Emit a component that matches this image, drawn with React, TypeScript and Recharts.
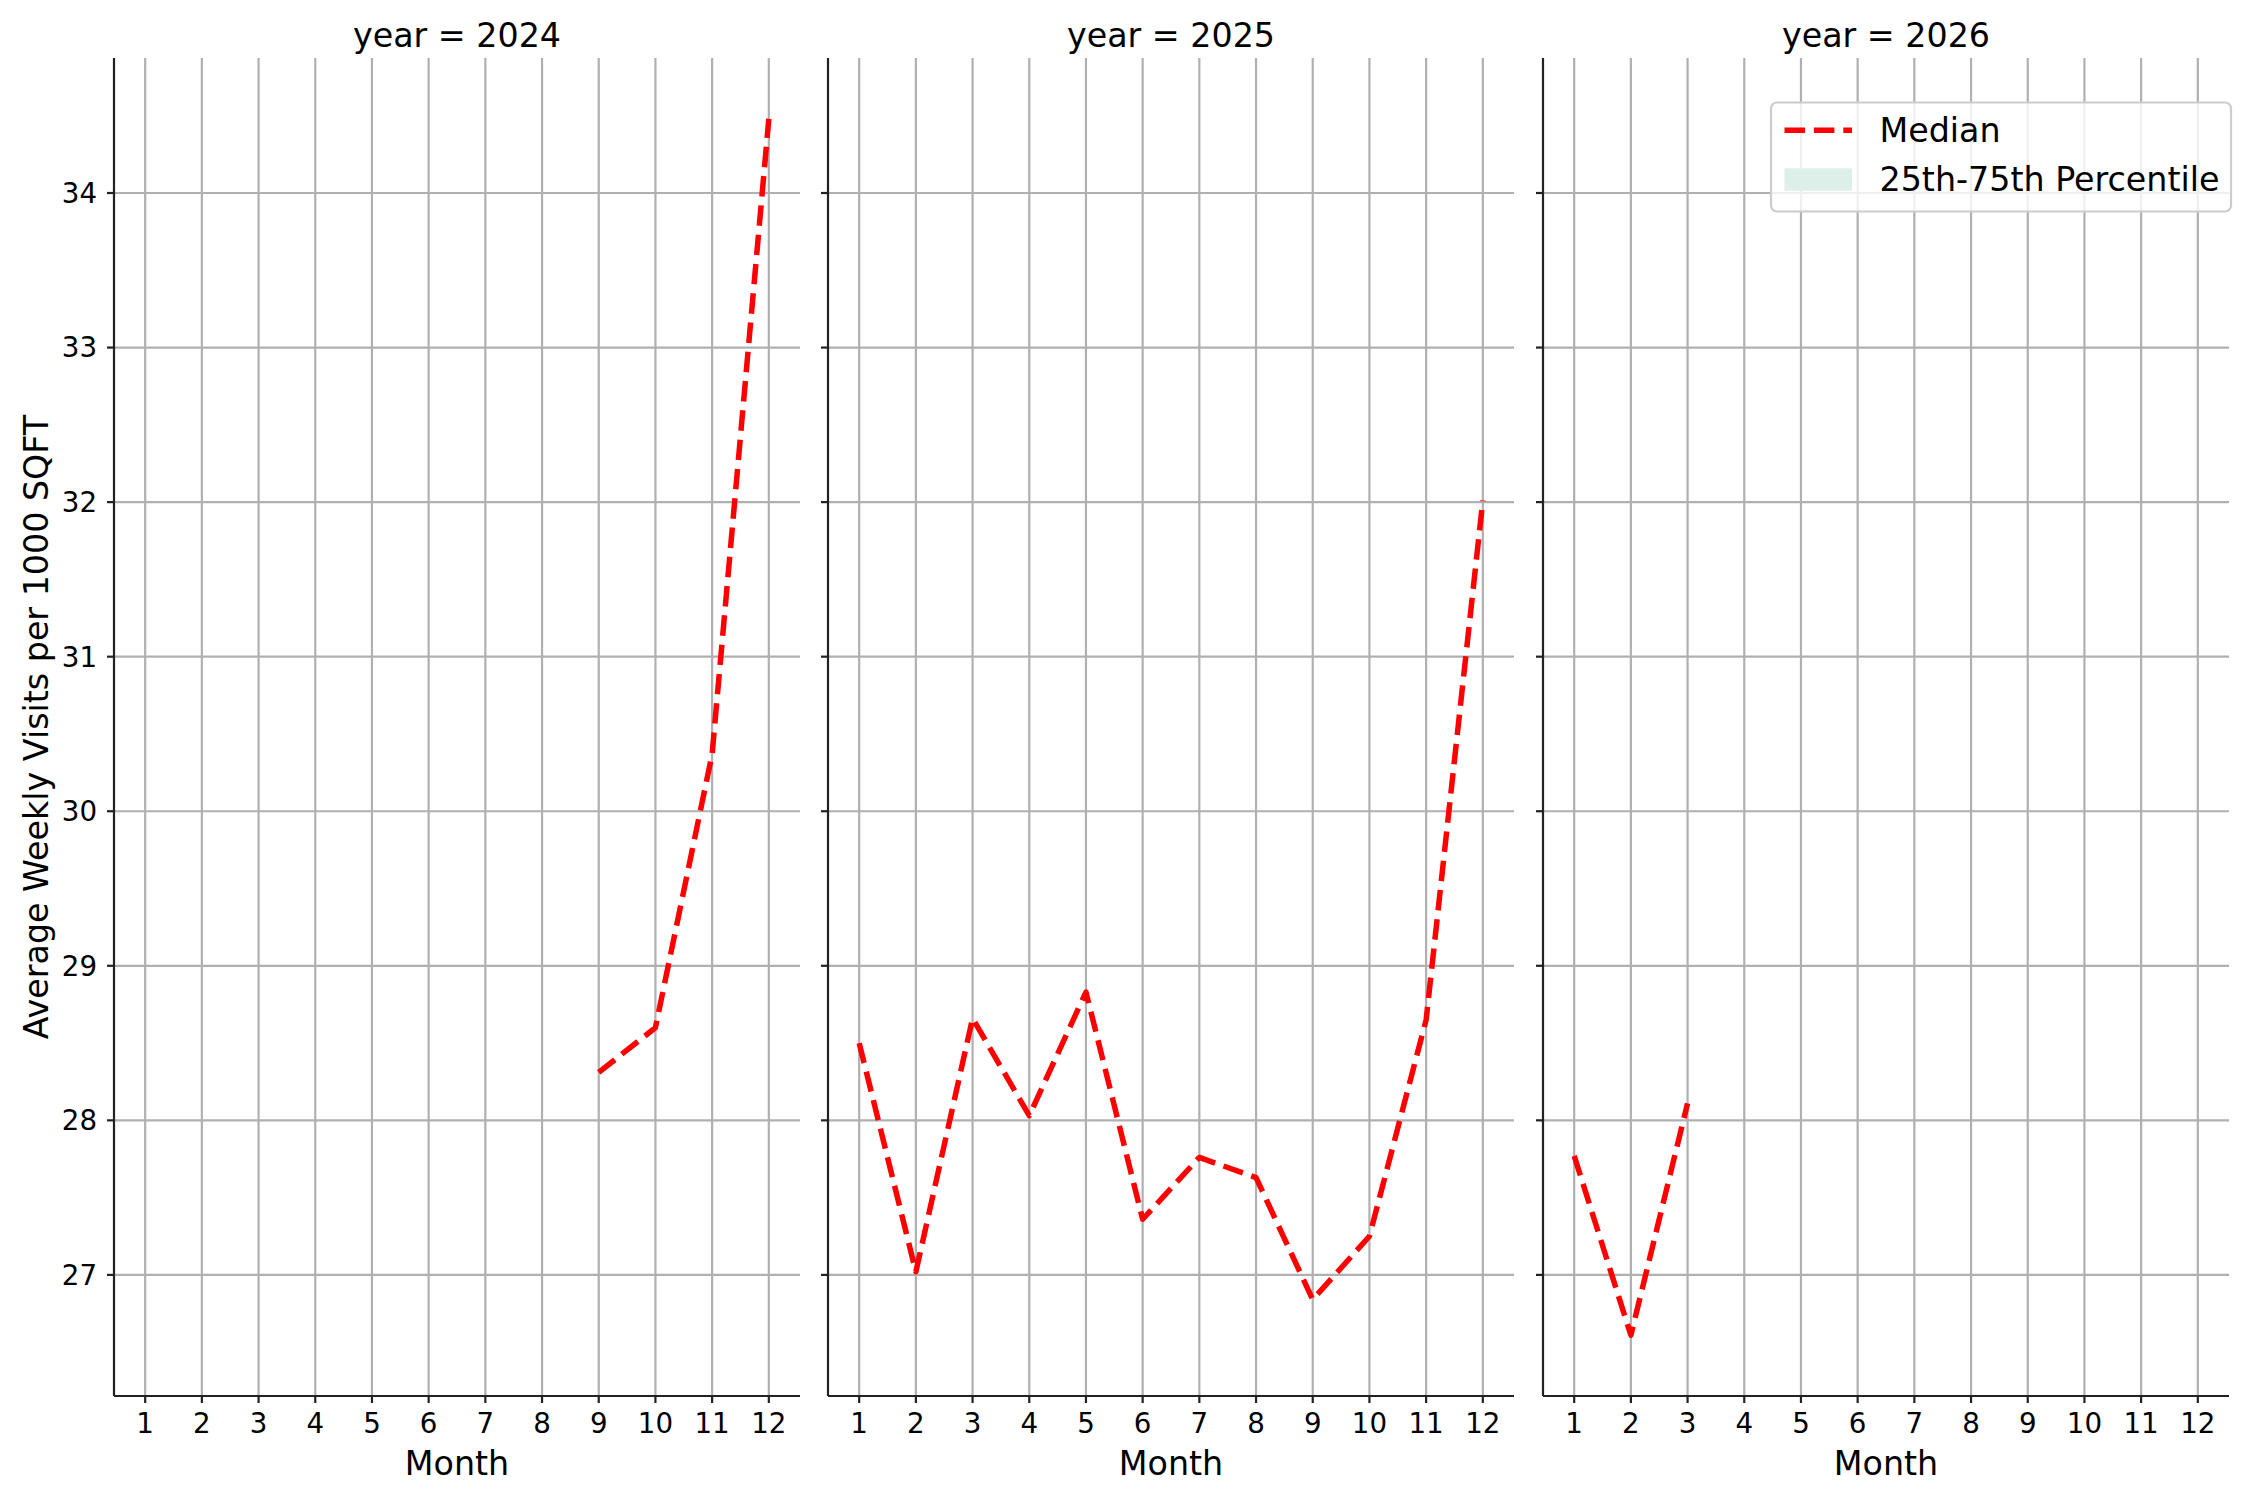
import React from 'react';
import { LineChart, Line, XAxis, YAxis, CartesianGrid } from 'recharts';

const MONTHS = [1, 2, 3, 4, 5, 6, 7, 8, 9, 10, 11, 12];
const YEARS = [2024, 2025, 2026];
const MEDIAN_2024 = [null, null, null, null, null, null, null, null, 28.31, 28.6, 30.37, 34.48];
const MEDIAN_2025 = [28.5, 27.02, 28.66, 28.03, 28.83, 27.36, 27.76, 27.63, 26.84, 27.25, 28.65, 32.01];
const MEDIAN_2026 = [27.77, 26.61, 28.11, null, null, null, null, null, null, null, null, null];
const Y_TICKS = [27, 28, 29, 30, 31, 32, 33, 34];
const SERIES = [MEDIAN_2024, MEDIAN_2025, MEDIAN_2026];

const FONT = 'DejaVu Sans';
const RED = '#ff0000';
const SPINE = '#222222';
const GRID = '#b0b0b0';

const allVals = SERIES.flat().filter((v) => v !== null) as number[];
const yMin = Math.min(...allVals);
const yMax = Math.max(...allVals);
const yPad = (yMax - yMin) * 0.05;
const Y_DOMAIN = [yMin - yPad, yMax + yPad];
const xPad = (MONTHS[MONTHS.length - 1] - MONTHS[0]) * 0.05;
const X_DOMAIN = [MONTHS[0] - xPad, MONTHS[MONTHS.length - 1] + xPad];

const PLOT_TOP = 58;
const PLOT_BOTTOM = 1396;
const PLOT_W = 686;
const PANEL_LEFTS = [114, 828, 1543];

function Panel({ idx }: { idx: number }) {
  const series = SERIES[idx];
  const data = MONTHS.map((m, i) => ({ month: m, median: series[i] }));
  const yW = idx === 0 ? 114 : 18;
  const left = PANEL_LEFTS[idx] - yW;
  return (
    <div style={{ position: 'absolute', left, top: 0 }}>
      <LineChart
        width={yW + PLOT_W}
        height={1500}
        data={data}
        margin={{ top: PLOT_TOP, right: 0, bottom: 0, left: 0 }}
      >
        <CartesianGrid stroke={GRID} strokeWidth={2.2} syncWithTicks />
        <XAxis
          dataKey="month"
          type="number"
          domain={X_DOMAIN}
          ticks={MONTHS}
          allowDataOverflow
          height={1500 - PLOT_BOTTOM}
          tickSize={7}
          tickMargin={10}
          axisLine={{ stroke: SPINE, strokeWidth: 2.2 }}
          tickLine={{ stroke: SPINE, strokeWidth: 2.2 }}
          tick={{ fill: '#000', fontSize: 27.7, fontFamily: FONT }}
        />
        <YAxis
          type="number"
          domain={Y_DOMAIN}
          ticks={Y_TICKS}
          allowDataOverflow
          width={yW}
          tickSize={7}
          tickMargin={10}
          axisLine={{ stroke: SPINE, strokeWidth: 2.2 }}
          tickLine={{ stroke: SPINE, strokeWidth: 2.2 }}
          tick={idx === 0 ? { fill: '#000', fontSize: 27.7, fontFamily: FONT } : () => <g />}
        />
        <Line
          type="linear"
          dataKey="median"
          stroke={RED}
          strokeWidth={5.5}
          strokeDasharray="20.5 8.9"
          strokeLinejoin="round"
          dot={false}
          activeDot={false}
          connectNulls={false}
          isAnimationActive={false}
        />
      </LineChart>
    </div>
  );
}

export default function App() {
  return (
    <div style={{ position: 'absolute', left: 0, top: 0, width: 2250, height: 1500, background: '#fff', overflow: 'hidden' }}>
      {YEARS.map((_, i) => (
        <Panel key={i} idx={i} />
      ))}
      <svg
        width={2250}
        height={1500}
        style={{ position: 'absolute', left: 0, top: 0, pointerEvents: 'none' }}
        fontFamily={FONT}
      >
        {YEARS.map((y, i) => (
          <g key={y}>
            <text x={PANEL_LEFTS[i] + PLOT_W / 2} y={46.5} textAnchor="middle" fontSize={33.3} fill="#000">
              {`year = ${y}`}
            </text>
            <text x={PANEL_LEFTS[i] + PLOT_W / 2} y={1475} textAnchor="middle" fontSize={33.3} fill="#000">
              Month
            </text>
          </g>
        ))}
        <text
          x={47.5}
          y={(PLOT_TOP + PLOT_BOTTOM) / 2}
          transform={`rotate(-90 47.5 ${(PLOT_TOP + PLOT_BOTTOM) / 2})`}
          textAnchor="middle"
          fontSize={33.3}
          fill="#000"
        >
          Average Weekly Visits per 1000 SQFT
        </text>
        <g>
          <rect x={1771} y={102.5} width={460} height={109} rx={6} ry={6} fill="#ffffff" fillOpacity={0.8} stroke="#cccccc" strokeWidth={2.2} />
          <line x1={1784.5} x2={1852} y1={130.3} y2={130.3} stroke={RED} strokeWidth={5.5} strokeDasharray="20.5 8.9" />
          <text x={1879.5} y={141.7} fontSize={33.3} fill="#000">Median</text>
          <rect x={1784.5} y={168.3} width={67.5} height={22.4} fill="#dcefe9" />
          <text x={1879.5} y={190.7} fontSize={33.3} fill="#000">25th-75th Percentile</text>
        </g>
      </svg>
    </div>
  );
}
